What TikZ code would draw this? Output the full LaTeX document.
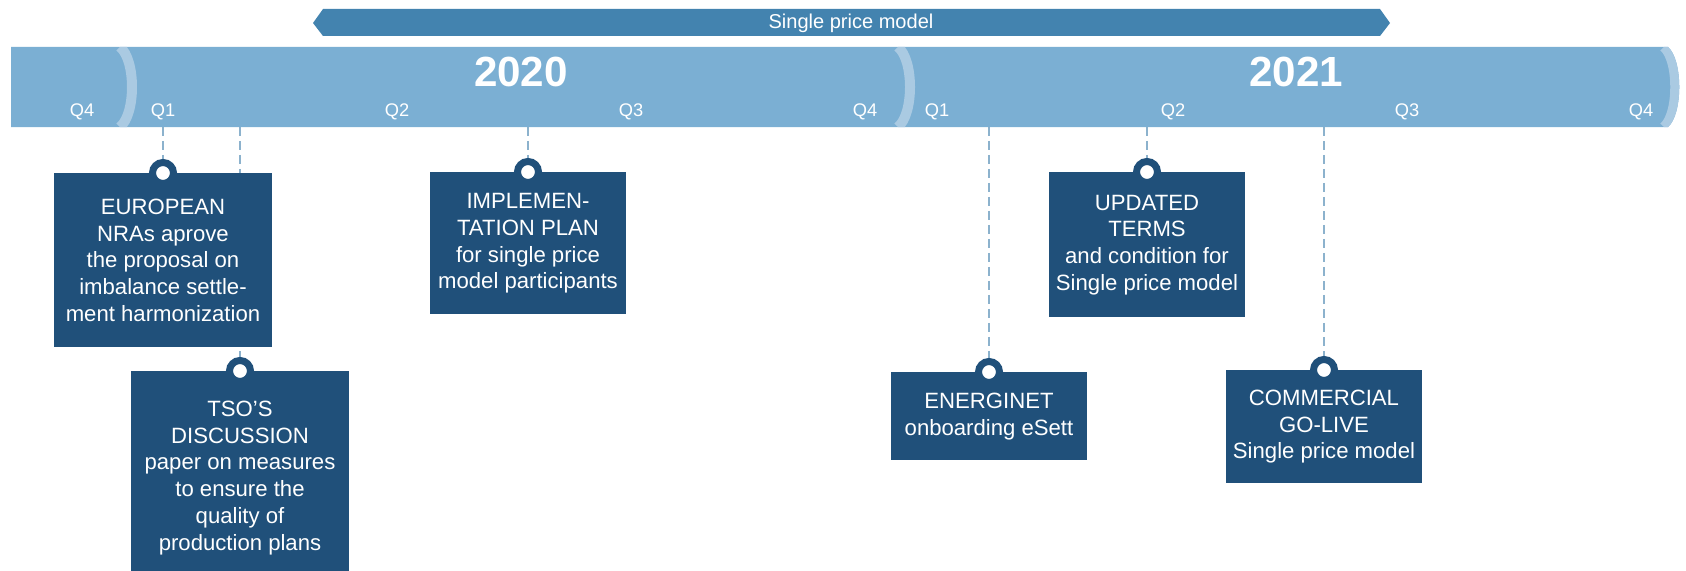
\documentclass[tikz,border=0pt]{standalone}
\usepackage{fontspec}
\setmainfont{Liberation Sans}
\usetikzlibrary{positioning}

\definecolor{bandblue}{RGB}{123,175,211}
\definecolor{ringblue}{RGB}{170,202,226}
\definecolor{spanblue}{RGB}{67,131,175}
\definecolor{boxblue}{RGB}{32,80,122}
\definecolor{guideblue}{RGB}{140,178,205}

\pgfdeclarelayer{background}
\pgfsetlayers{background,main}

\tikzset{
  eventbox/.style={rectangle, fill=boxblue, text=white, align=center, inner sep=0pt, anchor=north,
    font=\fontsize{12.6}{15.2}\selectfont},
  hanger/.style={circle, fill=white, draw=boxblue, line width=0.14cm, minimum size=0.42cm, inner sep=0pt},
  guide/.style={guideblue, line width=0.04cm, dash pattern=on 0.18cm off 0.1cm},
  quarter/.style={text=white, font=\fontsize{10.4}{12}\selectfont},
  year/.style={text=white, font=\fontsize{24}{28}\selectfont\bfseries},
  ring/.style={ringblue, line width=0.2cm},
}

\begin{document}
\begin{tikzpicture}[x=0.02cm, y=-0.02cm]
  \useasboundingbox (0,0) rectangle (1686,571);
  \clip (0,0) rectangle (1686,571);

  % Single price model span
  \fill[spanblue] (313,23) -- (323,9) -- (1380,9) -- (1390,23) -- (1380,36) -- (323,36) -- cycle;
  \node[text=white, font=\fontsize{11.4}{13}\selectfont] (span) at (851,23) {Single price model};

  % Timeline band
  \fill[bandblue] (11,47) -- (1668,47) .. controls (1683,60) and (1683,114) .. (1668,127) -- (11,127) -- cycle;
  \begin{scope}
    \clip (11,47) -- (1668,47) .. controls (1683,60) and (1683,114) .. (1668,127) -- (11,127) -- cycle;
    % year rings
    \draw[ring] (120,47) .. controls (136,60) and (136,114) .. (120,127);
    \draw[ring] (898,47) .. controls (914,60) and (914,114) .. (898,127);
    \draw[ring] (1664,47) .. controls (1679,60) and (1679,114) .. (1664,127);
  \end{scope}

  \node[year] (y2020) at (521,72) {2020};
  \node[year] (y2021) at (1296,72) {2021};

  % Quarters
  \foreach \x/\q [count=\i] in {82/Q4, 163/Q1, 397/Q2, 631/Q3, 865/Q4, 937/Q1, 1173/Q2, 1407/Q3, 1641/Q4}
    \node[quarter] (q\i) at (\x,112) {\q};

  % Ticks on the band
  \coordinate (t1) at (163,127);
  \coordinate (t2) at (240,127);
  \coordinate (t3) at (528,127);
  \coordinate (t4) at (989,127);
  \coordinate (t5) at (1147,127);
  \coordinate (t6) at (1324,127);

  % Events
  \node[eventbox, minimum width=4.38cm, minimum height=3.48cm] (b1) at (163,173)
    {EUROPEAN\\NRAs aprove\\the proposal on\\imbalance settle-\\ment harmonization};
  \node[eventbox, minimum width=4.38cm, minimum height=4.26cm] (b2) at (240,371)
    {TSO’S\\DISCUSSION\\paper on measures\\to ensure the\\quality of\\production plans};
  \node[eventbox, minimum width=3.94cm, minimum height=2.84cm] (b3) at (528,172)
    {IMPLEMEN-\\TATION PLAN\\for single price\\model participants};
  \node[eventbox, minimum width=3.92cm, minimum height=1.76cm] (b4) at (989,372)
    {ENERGINET\\onboarding eSett};
  \node[eventbox, minimum width=3.94cm, minimum height=2.90cm] (b5) at (1147,172)
    {UPDATED\\TERMS\\and condition for\\Single price model};
  \node[eventbox, minimum width=3.92cm, minimum height=2.26cm] (b6) at (1324,370)
    {COMMERCIAL\\GO-LIVE\\Single price model};

  % Hangers
  \foreach \i in {1,...,6}
    \node[hanger] (h\i) at (b\i.north) {};

  % Dashed guides
  \begin{pgfonlayer}{background}
    \foreach \i in {1,...,6}
      \draw[guide] (t\i) -- (h\i);
  \end{pgfonlayer}
\end{tikzpicture}
\end{document}
